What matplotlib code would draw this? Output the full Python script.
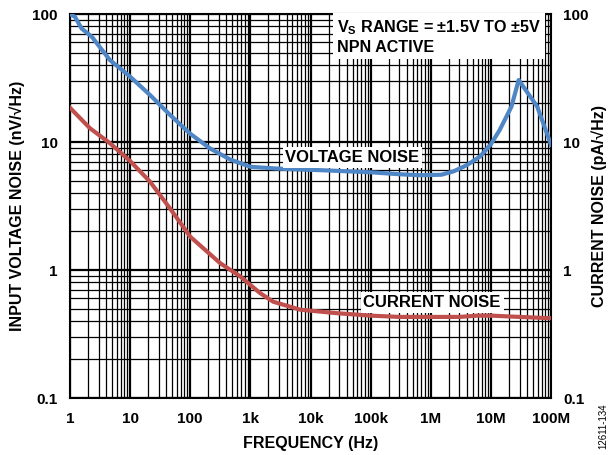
import matplotlib
matplotlib.use("Agg")
import matplotlib.pyplot as plt
from matplotlib.ticker import LogLocator, NullFormatter

plt.rcParams['font.family'] = ['Liberation Sans', 'DejaVu Sans']
plt.rcParams['font.weight'] = 'bold'
plt.rcParams['mathtext.fontset'] = 'custom'
plt.rcParams['mathtext.rm'] = 'Liberation Sans:bold'
plt.rcParams['mathtext.bf'] = 'Liberation Sans:bold'
plt.rcParams['mathtext.it'] = 'Liberation Sans:bold'

# Data
v_freq = [1.0, 1.21, 1.56, 2.3, 4.6, 10, 21.4, 46, 100, 214, 460, 1000, 2750,
          18000, 1e5, 3e5, 6.6e5, 1.5e6, 2.4e6, 4e6, 6.6e6, 1e7, 1.4e7, 2.2e7,
          2.9e7, 5.9e7, 1e8]
v_noise = [100, 95, 77, 66.5, 43.7, 32.4, 23.3, 16.3, 11.6, 8.9, 7.3, 6.4, 6.2,
           6.0, 5.8, 5.6, 5.5, 5.55, 5.9, 6.6, 7.7, 9.6, 12.4, 18.9,
           30.5, 18.9, 9.5]

i_freq = [1, 2.15, 4.6, 10, 21.4, 46, 100, 315, 680, 1450, 2400, 6700, 27000,
          1e5, 3e5, 1e6, 3e6, 6e6, 1e7, 3e7, 1e8]
i_noise = [18.5, 12.8, 9.8, 7.1, 4.9, 3.03, 1.82, 1.13, 0.89, 0.66, 0.565,
           0.49, 0.46, 0.44, 0.43, 0.43, 0.43, 0.44, 0.44, 0.43, 0.42]

x_ticks = [1, 10, 100, 1e3, 1e4, 1e5, 1e6, 1e7, 1e8]
x_labels = ['1', '10', '100', '1k', '10k', '100k', '1M', '10M', '100M']
y_ticks = [0.1, 1, 10, 100]
y_labels = ['0.1', '1', '10', '100']

FS = 11
FS_LAB = 11.5
FS_IN = 12

fig = plt.figure(figsize=(6.16, 4.55), dpi=100)
ax = fig.add_axes([70/616, 1-398/455, (551-70)/616, (398-14)/455])
ax.set_xscale('log')
ax.set_yscale('log')
ax.set_xlim(1, 1e8)
ax.set_ylim(0.1, 100)

ax.set_xticks(x_ticks)
ax.set_xticklabels(x_labels)
ax.set_yticks(y_ticks)
ax.set_yticklabels(y_labels)
ax.xaxis.set_minor_locator(LogLocator(base=10, subs=range(2, 10), numticks=100))
ax.yaxis.set_minor_locator(LogLocator(base=10, subs=range(2, 10), numticks=100))
ax.xaxis.set_minor_formatter(NullFormatter())
ax.yaxis.set_minor_formatter(NullFormatter())
ax.grid(which='major', color='black', linewidth=1.6)
ax.grid(which='minor', color='black', linewidth=0.9)
ax.tick_params(which='both', length=0, labelsize=FS)
ax.tick_params(axis='x', pad=10)
ax.tick_params(axis='y', pad=9)
for s in ax.spines.values():
    s.set_linewidth(1.5)

ax.plot(v_freq, v_noise, color='#4F86C6', linewidth=3, solid_joinstyle='round', zorder=5)
ax.plot(i_freq, i_noise, color='#C0504D', linewidth=3, solid_joinstyle='round', zorder=5)

ax.set_xlabel('FREQUENCY (Hz)', fontsize=FS_LAB, fontweight='bold', labelpad=7)
ax.set_ylabel('INPUT VOLTAGE NOISE (nV/\u221aHz)', fontsize=FS_LAB, fontweight='bold', labelpad=5)

ax2 = ax.twinx()
ax2.set_yscale('log')
ax2.set_ylim(0.1, 100)
ax2.set_yticks(y_ticks)
ax2.set_yticklabels(y_labels)
ax2.yaxis.set_minor_formatter(NullFormatter())
ax2.tick_params(which='both', length=0, labelsize=FS, pad=9)
ax2.set_ylabel('CURRENT NOISE (pA/\u221aHz)', fontsize=FS_LAB, fontweight='bold', labelpad=2)
for s in ax2.spines.values():
    s.set_visible(False)

bbox = dict(facecolor='white', edgecolor='none', pad=2)
ax.text(0.555, 0.988, 'V$_\\mathbf{S}$ RANGE = \u00b11.5V TO \u00b15V\nNPN ACTIVE',
        transform=ax.transAxes, ha='left', va='top', fontsize=11.6, fontweight='bold',
        bbox=dict(facecolor='white', edgecolor='none', pad=3), zorder=6, linespacing=1.25)
ax.text(5e4, 7.6, 'VOLTAGE NOISE', ha='center', va='center', fontsize=FS_IN,
        fontweight='bold', bbox=bbox, zorder=6)
ax.text(1.05e6, 0.56, 'CURRENT NOISE', ha='center', va='center', fontsize=FS_IN,
        fontweight='bold', bbox=bbox, zorder=6)

fig.text(603/616, 1-426/455, '12611-134', rotation=90, ha='center', va='center', fontsize=7,
         fontweight='normal')

fig.savefig('out.png', dpi=100)
